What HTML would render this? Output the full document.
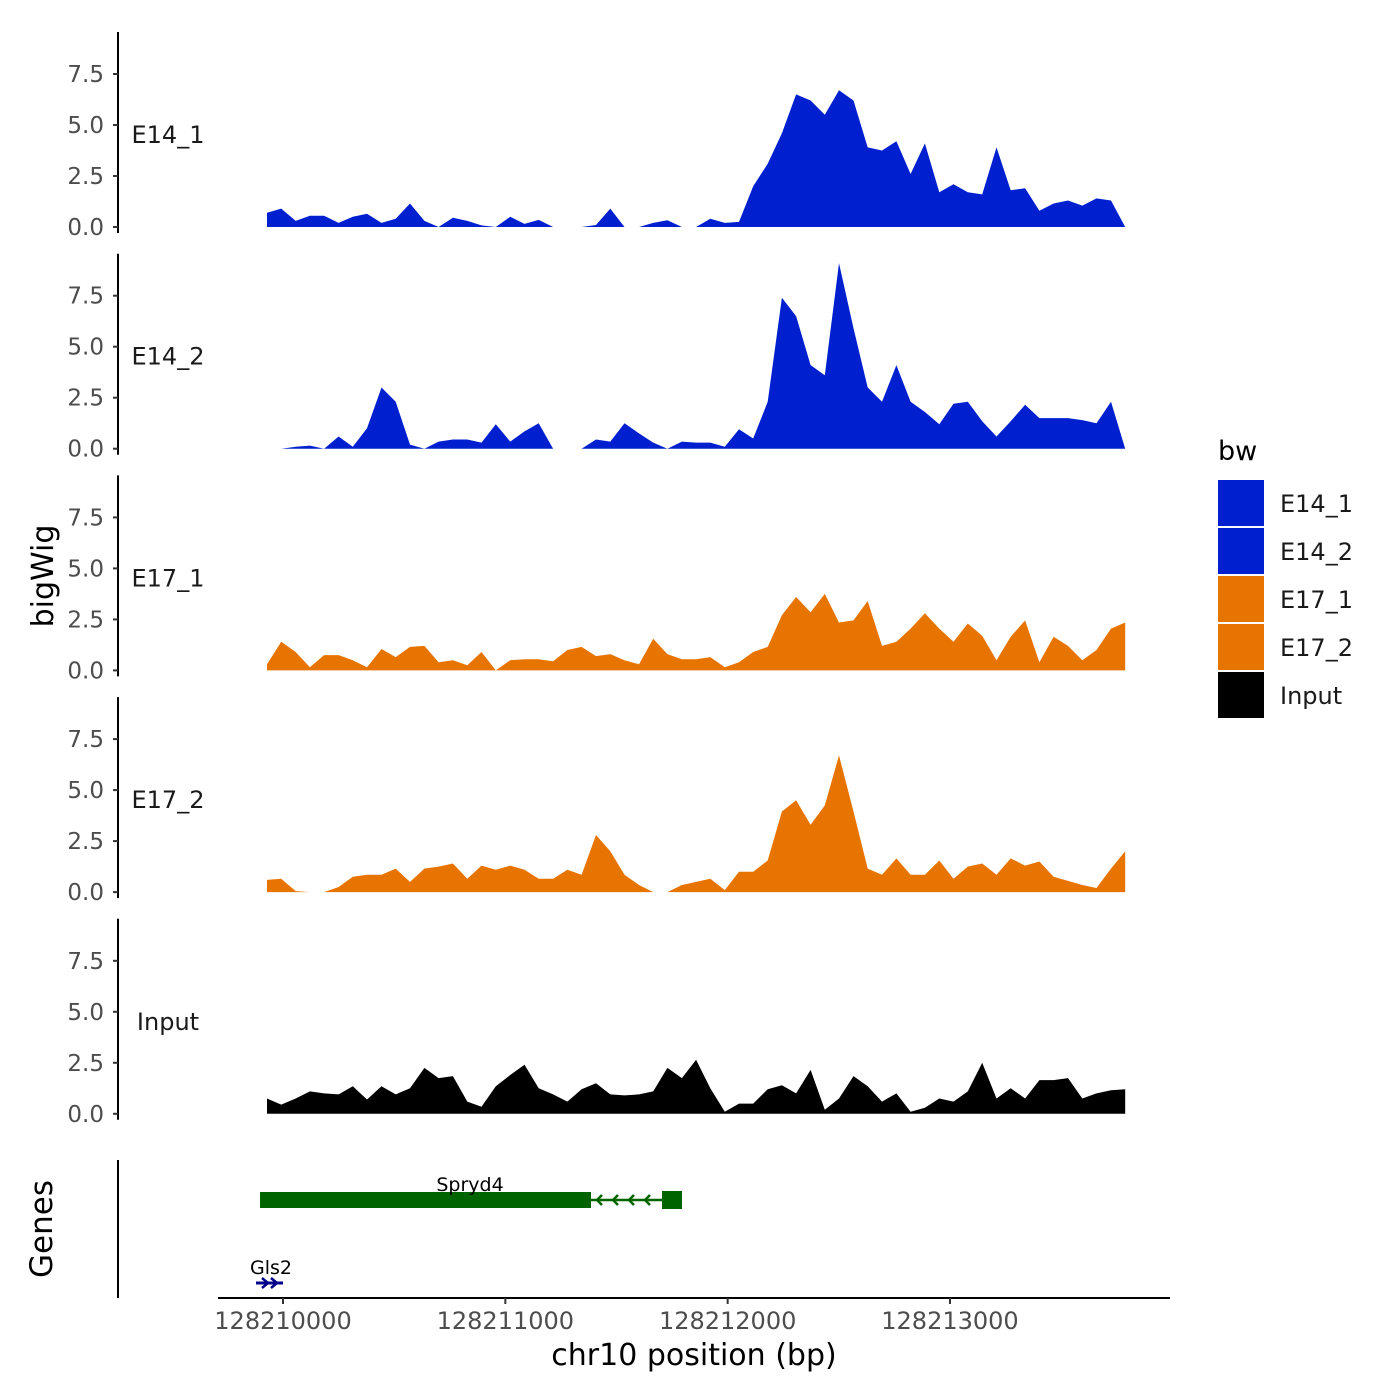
<!DOCTYPE html>
<html><head><meta charset="utf-8"><style>
body{margin:0;background:#fff;font-family:"Liberation Sans","DejaVu Sans",sans-serif}
svg{display:block}
</style></head><body>
<svg id="chart" width="1400" height="1400" viewBox="0 0 1400 1400" xmlns="http://www.w3.org/2000/svg" font-family="DejaVu Sans, Liberation Sans, sans-serif">
</svg>
<script>
const startBp = 128209928;
const offsets = [0,64,129,193,257,322,386,450,515,579,643,708,772,836,901,965,1029,1094,1158,1222,1287,1351,1415,1480,1544,1608,1673,1737,1801,1866,1930,1994,2059,2123,2187,2252,2316,2380,2445,2509,2573,2638,2702,2766,2831,2895,2959,3024,3088,3152,3217,3281,3345,3410,3474,3538,3603,3667,3731,3796,3860];
const trackNames = ["E14_1","E14_2","E17_1","E17_2","Input"];
const e14_1 = [0.7,0.9,0.3,0.55,0.55,0.2,0.5,0.65,0.2,0.4,1.15,0.3,0,0.45,0.3,0.08,0,0.5,0.15,0.35,0,0,0,0.1,0.9,0,0,0.2,0.33,0,0,0.4,0.2,0.25,2.0,3.1,4.6,6.5,6.2,5.5,6.7,6.2,3.9,3.75,4.2,2.6,4.1,1.7,2.1,1.7,1.6,3.9,1.8,1.9,0.8,1.15,1.3,1.05,1.4,1.3,0];
const e14_2 = [0,0,0.1,0.15,0,0.6,0.1,1.0,3.0,2.3,0.2,0,0.35,0.45,0.45,0.3,1.2,0.35,0.85,1.25,0,0,0,0.45,0.35,1.25,0.75,0.3,0,0.35,0.3,0.3,0.1,0.95,0.5,2.3,7.4,6.5,4.1,3.6,9.1,5.9,3.0,2.3,4.1,2.3,1.8,1.2,2.2,2.3,1.35,0.6,1.35,2.15,1.5,1.5,1.5,1.4,1.25,2.3,0];
const e17_1 = [0.3,1.4,0.9,0.15,0.75,0.75,0.5,0.15,1.05,0.65,1.15,1.2,0.4,0.5,0.25,0.9,0,0.5,0.55,0.55,0.45,1.0,1.15,0.7,0.8,0.5,0.3,1.55,0.8,0.55,0.55,0.65,0.15,0.4,0.9,1.15,2.7,3.6,2.85,3.75,2.35,2.45,3.4,1.2,1.4,2.05,2.8,2.05,1.4,2.3,1.7,0.5,1.65,2.45,0.4,1.65,1.2,0.5,1.0,2.05,2.35];
const e17_2 = [0.6,0.65,0.05,0,0,0.25,0.75,0.85,0.85,1.15,0.5,1.15,1.25,1.4,0.65,1.3,1.1,1.3,1.1,0.65,0.65,1.1,0.85,2.8,2.0,0.85,0.35,0,0,0.35,0.5,0.65,0.1,1.0,1.0,1.55,3.95,4.5,3.3,4.25,6.7,3.95,1.15,0.85,1.65,0.85,0.85,1.55,0.65,1.25,1.4,0.85,1.65,1.3,1.5,0.75,0.55,0.35,0.2,1.15,2.0];
const input = [0.75,0.45,0.75,1.1,1.0,0.95,1.35,0.7,1.35,0.95,1.25,2.25,1.75,1.85,0.6,0.35,1.35,1.9,2.4,1.25,0.95,0.6,1.2,1.5,0.95,0.9,0.95,1.1,2.25,1.75,2.65,1.25,0.1,0.5,0.5,1.2,1.4,1.0,2.15,0.2,0.75,1.85,1.35,0.6,1.0,0.1,0.3,0.75,0.6,1.1,2.5,0.75,1.25,0.75,1.65,1.65,1.75,0.75,1.0,1.15,1.2];
const yTicks = [0,2.5,5,7.5];
const yTickLabels = ["0.0","2.5","5.0","7.5"];
const xTicks = [128210000,128211000,128212000,128213000];
const xTickLabels = ["128210000","128211000","128212000","128213000"];
const colors = ["#0020d0","#0020d0","#e87400","#e87400","#000000"];

const NS="http://www.w3.org/2000/svg";
const svg=document.getElementById('chart');
function mk(tag,attrs,parent){const e=document.createElementNS(NS,tag);for(const k in attrs)e.setAttribute(k,attrs[k]);(parent||svg).appendChild(e);return e;}
function xScale(bp){return 283+(bp-128210000)*0.22233;}
function yScale(panel,v){return 227+panel*221.7-v*20.4;}
const series=[e14_1,e14_2,e17_1,e17_2,input];

series.forEach((vals,p)=>{
  const g=mk('g',{});
  
  
  const base=yScale(p,0);
  let d='M'+xScale(startBp+offsets[0]).toFixed(1)+','+base.toFixed(1);
  vals.forEach((v,i)=>{d+=' L'+xScale(startBp+offsets[i]).toFixed(1)+','+yScale(p,v).toFixed(1);});
  d+=' L'+xScale(startBp+offsets[offsets.length-1]).toFixed(1)+','+base.toFixed(1)+' Z';
  const a=mk('path',{d:d,fill:colors[p],stroke:'none'},g);
  
  
  const top=32+p*221.7, bot=233+p*221.7;
  const ax=mk('line',{x1:118,x2:118,y1:top,y2:bot,stroke:'#000','stroke-width':2},g);
  
  
  yTicks.forEach((t,i)=>{
    const y=yScale(p,t);
    mk('line',{x1:113,x2:118,y1:y,y2:y,stroke:'#333','stroke-width':2},g);
    const tl=mk('text',{x:104,y:y+8,'text-anchor':'end','font-size':23,fill:'#4d4d4d'},g);
    tl.textContent=yTickLabels[i];
    
    
  });
  const lab=mk('text',{x:168,y:143+p*221.7,'text-anchor':'middle','font-size':24,fill:'#1a1a1a'},g);
  lab.textContent=trackNames[p];
  
  
});
</script>
<script>
(function(){
const NS="http://www.w3.org/2000/svg";const svg=document.getElementById('chart');
function mk(tag,attrs){const e=document.createElementNS(NS,tag);for(const k in attrs)e.setAttribute(k,attrs[k]);svg.appendChild(e);return e;}
let l=mk('line',{x1:118,x2:118,y1:1160,y2:1298,stroke:'#000','stroke-width':2});


l=mk('line',{x1:218,x2:1170,y1:1298,y2:1298,stroke:'#000','stroke-width':2});


xTicks.forEach((t,i)=>{
  const x=283+(t-128210000)*0.22233;
  mk('line',{x1:x,x2:x,y1:1298,y2:1304,stroke:'#333','stroke-width':2});
  const tl=mk('text',{x:x,y:1329,'text-anchor':'middle','font-size':24,fill:'#4d4d4d'});
  tl.textContent=xTickLabels[i];
  
  
});
let t=mk('text',{x:694,y:1365,'text-anchor':'middle','font-size':30,fill:'#000'});
t.textContent='chr10 position (bp)';


t=mk('text',{x:0,y:0,'text-anchor':'middle','font-size':30,fill:'#000',transform:'translate(53,576) rotate(-90)'});
t.textContent='bigWig';


t=mk('text',{x:0,y:0,'text-anchor':'middle','font-size':31,fill:'#000',transform:'translate(52,1229) rotate(-90)'});
t.textContent='Genes';


const g=mk('g',{});


function sub(tag,attrs){const e=document.createElementNS(NS,tag);for(const k in attrs)e.setAttribute(k,attrs[k]);g.appendChild(e);return e;}
sub('rect',{x:260,y:1192,width:331,height:16,fill:'#006400'});
sub('line',{x1:590,x2:680,y1:1200,y2:1200,stroke:'#006400','stroke-width':2.5});
[597,613,629,645].forEach(x=>sub('path',{d:`M${x+5},1195 L${x},1200 L${x+5},1205`,fill:'none',stroke:'#006400','stroke-width':2.5}));
sub('rect',{x:662,y:1191,width:20,height:18,fill:'#006400'});
t=sub('text',{x:470,y:1191,'text-anchor':'middle','font-size':19,fill:'#000'});
t.textContent='Spryd4';


const g2=mk('g',{});


let e=document.createElementNS(NS,'line');e.setAttribute('x1',256);e.setAttribute('x2',283);e.setAttribute('y1',1283);e.setAttribute('y2',1283);e.setAttribute('stroke','#00008b');e.setAttribute('stroke-width',3);g2.appendChild(e);
e=document.createElementNS(NS,'path');e.setAttribute('d','M271,1278 L277,1283 L271,1288 M262,1278 L268,1283 L262,1288');e.setAttribute('fill','none');e.setAttribute('stroke','#00008b');e.setAttribute('stroke-width',2.5);g2.appendChild(e);
e=document.createElementNS(NS,'text');e.setAttribute('x',271);e.setAttribute('y',1274);e.setAttribute('text-anchor','middle');e.setAttribute('font-size',19);e.textContent='Gls2';g2.appendChild(e);


const lg=mk('g',{});


e=document.createElementNS(NS,'text');e.setAttribute('x',1218);e.setAttribute('y',460);e.setAttribute('font-size',27);e.textContent='bw';lg.appendChild(e);


trackNames.forEach((n,i)=>{
  const y=480+i*48;
  const r=document.createElementNS(NS,'rect');
  r.setAttribute('x',1218);r.setAttribute('y',y);r.setAttribute('width',46);r.setAttribute('height',46);r.setAttribute('fill',colors[i]);
  lg.appendChild(r);
  
  
  const tx=document.createElementNS(NS,'text');
  tx.setAttribute('x',1280);tx.setAttribute('y',y+32);tx.setAttribute('font-size',24);tx.setAttribute('fill','#1a1a1a');tx.textContent=n;
  lg.appendChild(tx);
  
  
});
})();
</script>
</body></html>
